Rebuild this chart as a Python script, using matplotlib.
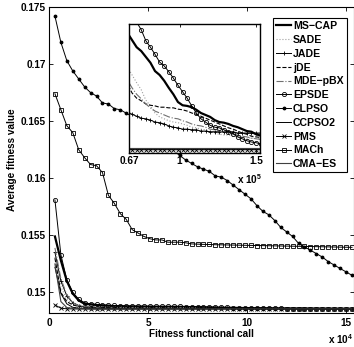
import numpy as np
import matplotlib
matplotlib.use("Agg")
import matplotlib.pyplot as plt

plt.rcParams["font.family"] = ["Liberation Sans", "DejaVu Sans"]
plt.rcParams["font.weight"] = "bold"
plt.rcParams["mathtext.fontset"] = "custom"
plt.rcParams["mathtext.rm"] = "Liberation Sans:bold"
plt.rcParams["mathtext.bf"] = "Liberation Sans:bold"

FS = 7.2

# fitness evaluations (every 3000 FEs)
fe = np.arange(3000, 153001, 3000)

ms_cap = [0.1549, 0.1528, 0.1510, 0.1499, 0.1493, 0.1490, 0.14895, 0.14890, 0.14886, 0.14883,
          0.14880, 0.148785, 0.148775, 0.148765, 0.148758, 0.148752, 0.148747, 0.148743, 0.148740, 0.148738,
          0.148737, 0.148736, 0.148725, 0.148714, 0.148708, 0.148699, 0.148690, 0.148677, 0.148671, 0.148662,
          0.148651, 0.148641, 0.148629, 0.148624, 0.148623, 0.148621, 0.148617, 0.148612, 0.148609, 0.148606,
          0.148601, 0.148598, 0.148597, 0.148595, 0.148592, 0.148590, 0.148587, 0.148584, 0.148583, 0.148579,
          0.148577]
sade = [0.1531, 0.1505, 0.1494, 0.1490, 0.14890, 0.14882, 0.14877, 0.148745, 0.148730, 0.148720,
        0.148712, 0.148706, 0.148701, 0.148697, 0.148694, 0.148692, 0.148690, 0.148688, 0.148686, 0.148685,
        0.148684, 0.148683, 0.148671, 0.148659, 0.148648, 0.148632, 0.148623, 0.148612, 0.148606, 0.148603,
        0.148600, 0.148598, 0.148597, 0.148595, 0.148593, 0.148590, 0.148589, 0.148587, 0.148586, 0.148583,
        0.148581, 0.148579, 0.148578, 0.148578, 0.148576, 0.148575, 0.148575, 0.148573, 0.148573, 0.148573,
        0.148572]
jade = [0.1535, 0.1510, 0.1497, 0.1491, 0.14885, 0.14872, 0.148680, 0.148662, 0.148652, 0.148645,
        0.148640, 0.148636, 0.148632, 0.148629, 0.148626, 0.148624, 0.148622, 0.148620, 0.148618, 0.148617,
        0.148615, 0.148614, 0.148610, 0.148607, 0.148604, 0.148603, 0.148601, 0.148598, 0.148597, 0.148595,
        0.148592, 0.148590, 0.148589, 0.148587, 0.148587, 0.148586, 0.148586, 0.148584, 0.148584, 0.148583,
        0.148583, 0.148583, 0.148583, 0.148583, 0.148583, 0.148581, 0.148581, 0.148581, 0.148581, 0.148581,
        0.148581]
jde = [0.1530, 0.1500, 0.1492, 0.14890, 0.14878, 0.148740, 0.148720, 0.148708, 0.148700, 0.148694,
       0.148689, 0.148685, 0.148681, 0.148677, 0.148674, 0.148671, 0.148668, 0.148665, 0.148663, 0.148661,
       0.148659, 0.148657, 0.148643, 0.148635, 0.148631, 0.148626, 0.148624, 0.148623, 0.148621, 0.148621,
       0.148620, 0.148620, 0.148618, 0.148617, 0.148615, 0.148612, 0.148610, 0.148607, 0.148604, 0.148601,
       0.148598, 0.148595, 0.148592, 0.148589, 0.148587, 0.148584, 0.148581, 0.148579, 0.148576, 0.148575,
       0.148574]
mde_pbx = [0.1539, 0.1512, 0.1498, 0.1491, 0.14885, 0.14875, 0.148725, 0.148710, 0.148700, 0.148694,
           0.148689, 0.148685, 0.148681, 0.148678, 0.148675, 0.148672, 0.148670, 0.148668, 0.148666, 0.148665,
           0.148664, 0.148663, 0.148651, 0.148641, 0.148634, 0.148626, 0.148620, 0.148615, 0.148612, 0.148609,
           0.148606, 0.148604, 0.148603, 0.148600, 0.148598, 0.148595, 0.148593, 0.148592, 0.148590, 0.148587,
           0.148586, 0.148584, 0.148583, 0.148581, 0.148579, 0.148578, 0.148576, 0.148575, 0.148573, 0.148572,
           0.148571]
epsde = [0.1581, 0.1533, 0.1511, 0.1500, 0.1494, 0.1491, 0.1490, 0.14895, 0.14891, 0.14888,
         0.14886, 0.14884, 0.148825, 0.148815, 0.148807, 0.148800, 0.148795, 0.148790, 0.148786, 0.148783,
         0.148781, 0.148779, 0.148764, 0.148753, 0.148741, 0.148724, 0.148714, 0.148703, 0.148691, 0.148685,
         0.148676, 0.148666, 0.148655, 0.148645, 0.148635, 0.148623, 0.148612, 0.148603, 0.148598, 0.148593,
         0.148590, 0.148589, 0.148586, 0.148583, 0.148580, 0.148575, 0.148572, 0.148569, 0.148567, 0.148566,
         0.148564]
clpso = [0.1742, 0.1719, 0.1703, 0.1694, 0.1687, 0.1680, 0.1675, 0.1672, 0.1666, 0.1665,
         0.1661, 0.1660, 0.1657, 0.1654, 0.1650, 0.1646, 0.1642, 0.1638, 0.1633, 0.1628,
         0.1624, 0.1620, 0.1616, 0.1613, 0.1610, 0.1608, 0.1606, 0.1602, 0.1601, 0.1598,
         0.1594, 0.1590, 0.1586, 0.1582, 0.1576, 0.1571, 0.1568, 0.1563, 0.1557, 0.1553,
         0.1549, 0.1543, 0.1540, 0.1537, 0.1534, 0.1531, 0.1527, 0.1524, 0.1521, 0.1518,
         0.1515]
ccpso2 = [0.1522, 0.1499, 0.1490, 0.14870, 0.14862, 0.14859, 0.148575, 0.148568, 0.148563, 0.148560,
          0.148558, 0.148557, 0.148557, 0.148556, 0.148556, 0.148556, 0.148556, 0.148556, 0.148556, 0.148556,
          0.148556, 0.148556, 0.148556, 0.148556, 0.148556, 0.148556, 0.148556, 0.148556, 0.148556, 0.148556,
          0.148556, 0.148556, 0.148556, 0.148556, 0.148556, 0.148556, 0.148556, 0.148556, 0.148556, 0.148556,
          0.148556, 0.148556, 0.148556, 0.148556, 0.148556, 0.148556, 0.148556, 0.148556, 0.148556, 0.148556,
          0.148556]
pms = [0.1489, 0.14862, 0.148565, 0.148558, 0.148556, 0.148555, 0.148555, 0.148555, 0.148555, 0.148555,
       0.148555, 0.148555, 0.148555, 0.148555, 0.148555, 0.148555, 0.148555, 0.148555, 0.148555, 0.148555,
       0.148555, 0.148555, 0.148555, 0.148555, 0.148555, 0.148555, 0.148555, 0.148555, 0.148555, 0.148555,
       0.148555, 0.148555, 0.148555, 0.148555, 0.148555, 0.148555, 0.148555, 0.148555, 0.148555, 0.148555,
       0.148555, 0.148555, 0.148555, 0.148555, 0.148555, 0.148555, 0.148555, 0.148555, 0.148555, 0.148555,
       0.148555]
mach = [0.1674, 0.1660, 0.1646, 0.1640, 0.1625, 0.1618, 0.1612, 0.1611, 0.1605, 0.1585,
        0.1578, 0.1569, 0.1564, 0.1555, 0.1552, 0.1549, 0.1547, 0.1546, 0.1546, 0.1544,
        0.1544, 0.15440, 0.15435, 0.15425, 0.15423, 0.15421, 0.15420, 0.15418, 0.15417, 0.15416,
        0.15415, 0.15414, 0.15413, 0.15412, 0.15411, 0.15410, 0.15409, 0.15408, 0.15407, 0.15406,
        0.15405, 0.15404, 0.15403, 0.15402, 0.15401, 0.15400, 0.15399, 0.15398, 0.15397, 0.15396,
        0.15395]
cma_es = [0.1525, 0.1492, 0.14868, 0.14860, 0.148575, 0.148565, 0.148560, 0.148558, 0.148557, 0.148557,
          0.148557, 0.148557, 0.148557, 0.148557, 0.148557, 0.148557, 0.148557, 0.148557, 0.148557, 0.148557,
          0.148557, 0.148557, 0.148557, 0.148557, 0.148557, 0.148557, 0.148557, 0.148557, 0.148557, 0.148557,
          0.148557, 0.148557, 0.148557, 0.148557, 0.148557, 0.148557, 0.148557, 0.148557, 0.148557, 0.148557,
          0.148557, 0.148557, 0.148557, 0.148557, 0.148557, 0.148557, 0.148557, 0.148557, 0.148557, 0.148557,
          0.148557]

series = [
    ("MS\u2212CAP", ms_cap, dict(color="black", lw=1.6)),
    ("SADE", sade, dict(color="#a0a0a0", lw=0.8, ls=":")),
    ("JADE", jade, dict(color="black", lw=0.7, marker="+", ms=3.5, mew=0.6)),
    ("jDE", jde, dict(color="black", lw=0.8, ls="--")),
    ("MDE\u2212pBX", mde_pbx, dict(color="#707070", lw=0.8, ls="-.")),
    ("EPSDE", epsde, dict(color="black", lw=0.7, marker="o", ms=3, mfc="none", mew=0.6)),
    ("CLPSO", clpso, dict(color="black", lw=0.7, marker=".", ms=3.5)),
    ("CCPSO2", ccpso2, dict(color="black", lw=0.7)),
    ("PMS", pms, dict(color="black", lw=0.7, marker="x", ms=2.5, mew=0.6)),
    ("MACh", mach, dict(color="black", lw=0.7, marker="s", ms=2.5, mfc="none", mew=0.6)),
    ("CMA\u2212ES", cma_es, dict(color="#404040", lw=0.8)),
]

fig = plt.figure(figsize=(3.54, 3.47), dpi=100)
ax = fig.add_axes([49 / 354, 1 - 313 / 347, 305 / 354, 306 / 347])

for name, vals, kw in series:
    ax.plot(fe, vals, label=name, **kw)

ax.set_xlim(0, 154000)
ax.set_ylim(0.1482, 0.175)
ax.set_xticks([0, 50000, 100000, 150000])
ax.set_xticklabels(["0", "5", "10", "15"], fontweight="bold")
ax.set_yticks([0.15, 0.155, 0.16, 0.165, 0.17, 0.175])
ax.set_yticklabels(["0.15", "0.155", "0.16", "0.165", "0.17", "0.175"], fontweight="bold")
ax.tick_params(direction="in", top=True, right=True, length=3, width=0.6,
               labelsize=FS, pad=2)
ax.tick_params(axis="x", pad=3.5)
for s in ax.spines.values():
    s.set_linewidth(0.8)
ax.set_xlabel("Fitness functional call", fontsize=FS, fontweight="bold", labelpad=0.5)
ax.set_ylabel("Average fitness value", fontsize=FS, fontweight="bold", labelpad=3)
fig.text(328 / 354, 1 - 339 / 347, r"x 10$^{4}$", fontsize=FS, fontweight="bold",
         ha="left", va="center")

leg = ax.legend(loc="upper left", bbox_to_anchor=(273 / 354, 1 - 18 / 347),
                bbox_transform=fig.transFigure, prop=dict(size=7.6, weight="bold"),
                frameon=True, fancybox=False, framealpha=1, edgecolor="black",
                handlelength=1.4, handletextpad=0.2, labelspacing=0.36,
                borderpad=0.3, borderaxespad=0)
leg.get_frame().set_linewidth(0.8)

# zoomed tail
axin = fig.add_axes([129 / 354, 1 - 153 / 347, 131 / 354, 129 / 347])
axin.set_zorder(3)
for name, vals, kw in series:
    axin.plot(fe, vals, **kw)
axin.set_xlim(67000, 152600)
axin.set_ylim(0.14855, 0.14875)
axin.set_xticks([67000, 100000, 150000])
axin.set_xticklabels(["0.67", "1", "1.5"], fontweight="bold")
axin.set_yticks([])
axin.tick_params(direction="in", top=True, length=2.5, width=0.6,
                 labelsize=FS, pad=2)
for s in axin.spines.values():
    s.set_linewidth(1.0)
fig.text(237 / 354, 1 - 179 / 347, r"x 10$^{5}$", fontsize=FS, fontweight="bold",
         ha="left", va="center")

fig.savefig("out.png", dpi=100)
